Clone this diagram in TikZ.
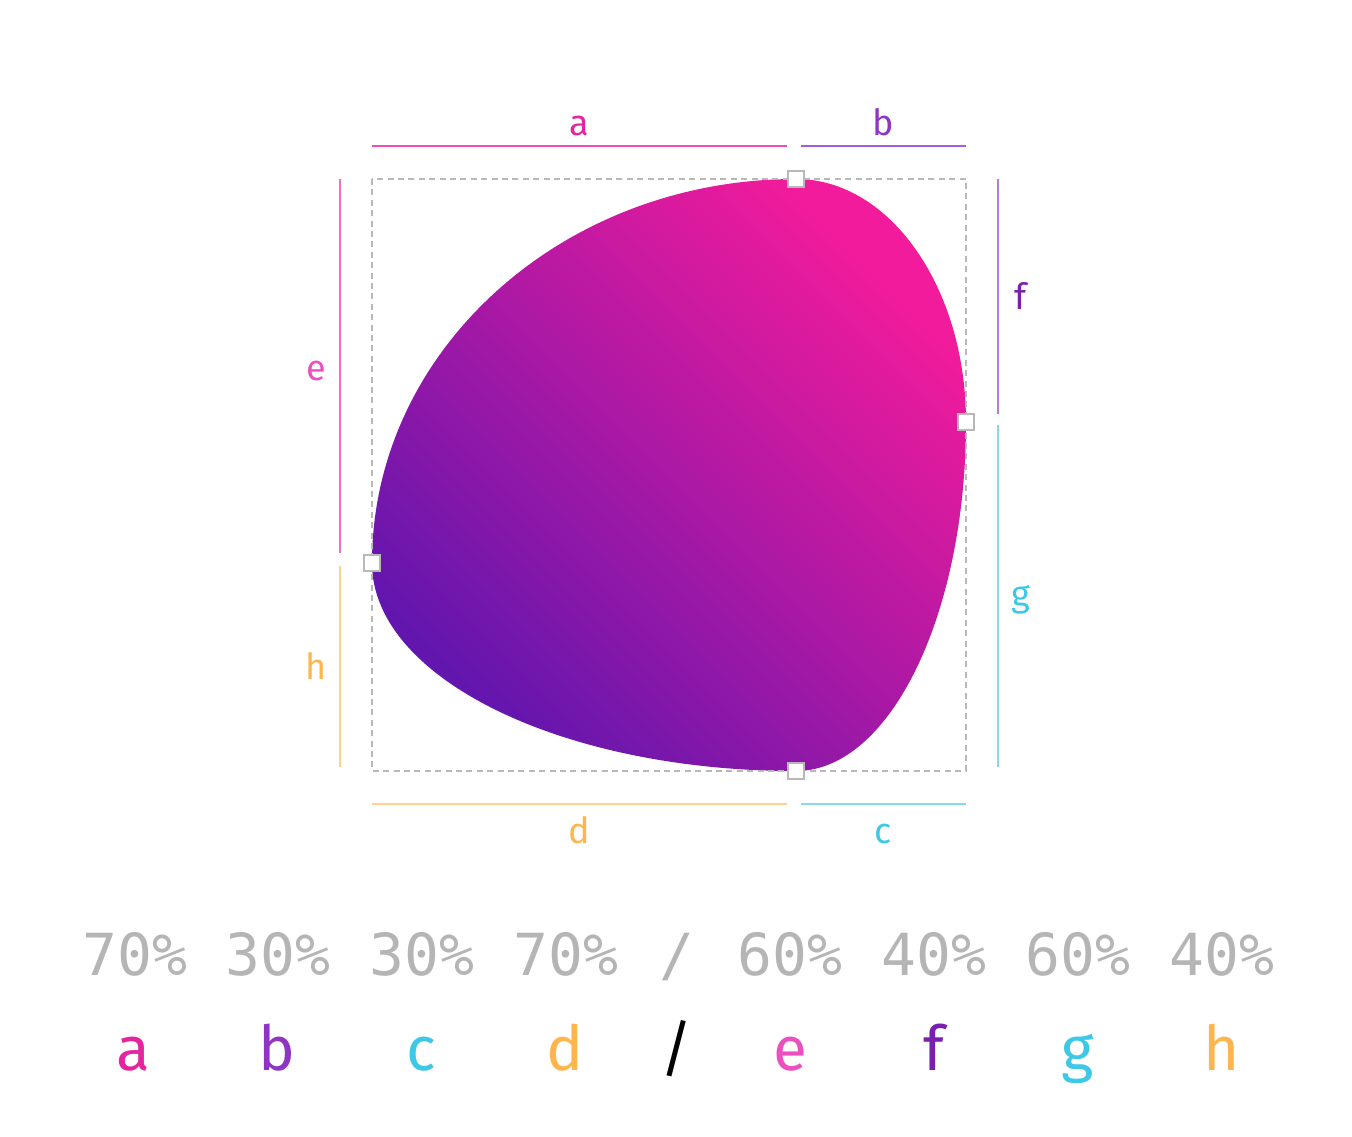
\documentclass[tikz,border=0pt]{standalone}
\usepackage{fontspec}
\setmainfont{Fira Sans}
\newfontfamily\monof{DejaVu Sans Mono}
\definecolor{blobpink}{HTML}{F21B9B}
\definecolor{blobviolet}{HTML}{6216AE}
\definecolor{cA}{HTML}{E5249F}
\definecolor{cB}{HTML}{8E35C4}
\definecolor{cC}{HTML}{3CC8E6}
\definecolor{cD}{HTML}{FFB54D}
\definecolor{cE}{HTML}{EB4FC0}
\definecolor{cF}{HTML}{7B1FB0}
\definecolor{lA}{HTML}{F04DB5}
\definecolor{lB}{HTML}{A35ED6}
\definecolor{lC}{HTML}{86D9F0}
\definecolor{lD}{HTML}{FFD28E}
\definecolor{lE}{HTML}{F070C8}
\definecolor{lF}{HTML}{B57ADF}
\definecolor{pctgray}{HTML}{B5B5B5}
\definecolor{boxgray}{HTML}{B8B8B8}
\tikzset{
  dimline/.style={line width=1.2pt},
  dimlabel/.style={inner sep=0pt, anchor=base, font=\fontsize{18}{20}\selectfont},
  pct/.style={inner sep=0pt, anchor=base, text=pctgray, font=\monof\fontsize{29}{32}\selectfont},
  key/.style={inner sep=0pt, anchor=base, font=\fontsize{31}{34}\selectfont},
  handle/.style={draw=boxgray, fill=white, line width=1.2pt, minimum size=8pt, inner sep=0pt, rectangle},
}
\begin{document}
\begin{tikzpicture}[x=0.5pt,y=-0.5pt]
\useasboundingbox (0,0) rectangle (1352,1136);
% blob
\shade[bottom color=blobviolet, top color=blobpink, shading angle=-45]
  (796,179) .. controls (889.9,179) and (966,287.8) .. (966,422)
  .. controls (966,614.7) and (889.9,771) .. (796,771)
  .. controls (561.8,771) and (372,677.9) .. (372,563)
  .. controls (372,350.9) and (561.8,179) .. (796,179) -- cycle;
% dashed bounding box
\draw[boxgray, line width=1.4pt, dash pattern=on 3pt off 2.2pt] (372,179) rectangle (966,771);
% handles
\node[handle] (hT) at (796,179) {};
\node[handle] (hR) at (966,422) {};
\node[handle] (hB) at (796,771) {};
\node[handle] (hL) at (372,563) {};
% dimension lines
\coordinate (a1) at (372,146); \coordinate (a2) at (787,146);
\coordinate (b1) at (801,146); \coordinate (b2) at (966,146);
\coordinate (d1) at (372,804); \coordinate (d2) at (787,804);
\coordinate (c1) at (801,804); \coordinate (c2) at (966,804);
\coordinate (e1) at (340,179); \coordinate (e2) at (340,553);
\coordinate (h1) at (340,566); \coordinate (h2) at (340,767);
\coordinate (f1) at (998,179); \coordinate (f2) at (998,414);
\coordinate (g1) at (998,425); \coordinate (g2) at (998,767);
\draw[dimline, lA] (a1) -- (a2);
\draw[dimline, lB] (b1) -- (b2);
\draw[dimline, lD] (d1) -- (d2);
\draw[dimline, lC] (c1) -- (c2);
\draw[dimline, lE] (e1) -- (e2);
\draw[dimline, lD] (h1) -- (h2);
\draw[dimline, lF] (f1) -- (f2);
\draw[dimline, lC] (g1) -- (g2);
% dimension labels
\node[dimlabel, text=cA] (la) at (579,135) {a};
\node[dimlabel, text=cB] (lb) at (883,135) {b};
\node[dimlabel, text=cD] (ld) at (579,843) {d};
\node[dimlabel, text=cC] (lc) at (883,843) {c};
\node[dimlabel, text=cE] (le) at (316,380) {e};
\node[dimlabel, text=cD] (lh) at (316,679) {h};
\node[dimlabel, text=cF] (lf) at (1021,309) {f};
\node[dimlabel, text=cC] (lg) at (1021,606) {g};
% percentages
\node[pct] (p1) at (135,975) {70\%};
\node[pct] (p2) at (278,975) {30\%};
\node[pct] (p3) at (422,975) {30\%};
\node[pct] (p4) at (566,975) {70\%};
\node[pct] (p5) at (677,975) {/};
\node[pct] (p6) at (790,975) {60\%};
\node[pct] (p7) at (934,975) {40\%};
\node[pct] (p8) at (1078,975) {60\%};
\node[pct] (p9) at (1222,975) {40\%};
% key letters
\node[key, text=cA] (k1) at (133,1070) {a};
\node[key, text=cB] (k2) at (277,1070) {b};
\node[key, text=cC] (k3) at (421,1070) {c};
\node[key, text=cD] (k4) at (565,1070) {d};
\node[key, text=black] (k5) at (677,1070) {/};
\node[key, text=cE] (k6) at (790,1070) {e};
\node[key, text=cF] (k7) at (934,1070) {f};
\node[key, text=cC] (k8) at (1078,1070) {g};
\node[key, text=cD] (k9) at (1222,1070) {h};
\end{tikzpicture}
\end{document}
